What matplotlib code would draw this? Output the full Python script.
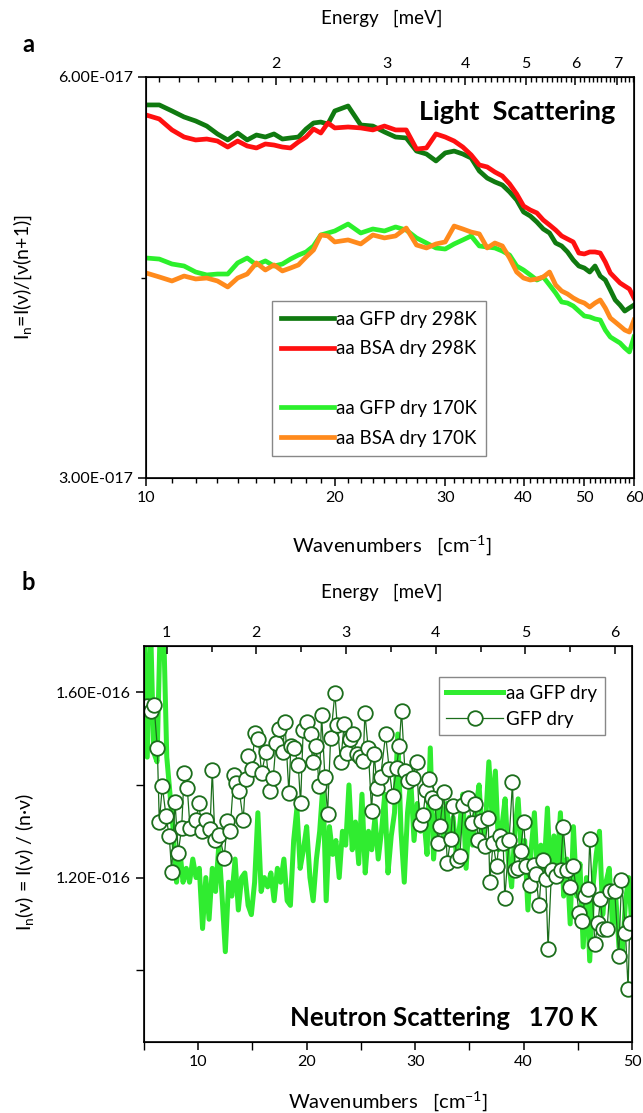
import numpy as np
import matplotlib.pyplot as plt
from matplotlib.ticker import FixedLocator, FuncFormatter, NullFormatter
from matplotlib.lines import Line2D

plt.rcParams['font.family'] = ['Lato', 'DejaVu Sans']
plt.rcParams['mathtext.fontset'] = 'custom'
plt.rcParams['mathtext.rm'] = 'Lato'
plt.rcParams['mathtext.it'] = 'Lato'

# ---------------- panel a : light scattering (values in 1e-17) ----------------
wn_a = [10, 10.5, 11, 11.5, 12, 12.5, 13, 13.5, 14, 14.5, 15, 15.5, 16, 16.5, 17,
        17.5, 18, 18.5, 19, 19.5, 20, 21, 22, 23, 24, 25, 26, 27, 28, 29, 30,
        31, 32, 33, 34, 35, 36, 37, 38, 39, 40, 41, 42, 43, 44, 45, 46, 47, 48,
        49, 50, 51, 52, 53, 54, 55, 56, 57, 58, 59, 60]
gfp_298 = [5.791, 5.791, 5.746, 5.701, 5.671, 5.633, 5.574, 5.529, 5.581, 5.529,
           5.566, 5.551, 5.574, 5.536, 5.544, 5.551, 5.611, 5.656, 5.663, 5.648,
           5.746,
           5.783, 5.641, 5.633, 5.589, 5.551, 5.544, 5.446, 5.424, 5.372, 5.432,
           5.446, 5.424, 5.394, 5.297, 5.244, 5.215, 5.192, 5.140, 5.080, 4.990,
           4.960, 4.915, 4.863, 4.833, 4.758, 4.736, 4.691, 4.631, 4.586, 4.571,
           4.541, 4.586, 4.511, 4.481, 4.407, 4.332, 4.294, 4.249, 4.272, 4.294]
bsa_298 = [5.716, 5.686, 5.604, 5.551, 5.529, 5.536, 5.521, 5.476, 5.521, 5.484,
           5.469, 5.499, 5.491, 5.476, 5.469, 5.514, 5.551, 5.611, 5.581, 5.656,
           5.619,
           5.626, 5.619, 5.604, 5.633, 5.604, 5.604, 5.461, 5.469, 5.574, 5.551,
           5.521, 5.476, 5.417, 5.342, 5.327, 5.289, 5.259, 5.200, 5.125, 5.035,
           5.005, 4.983, 4.930, 4.893, 4.855, 4.811, 4.788, 4.766, 4.683, 4.676,
           4.691, 4.691, 4.683, 4.616, 4.534, 4.496, 4.459, 4.436, 4.414, 4.347]
gfp_170 = [4.646, 4.638, 4.601, 4.586, 4.541, 4.519, 4.526, 4.526, 4.609, 4.646,
           4.594, 4.624, 4.586, 4.601, 4.638, 4.668, 4.691, 4.736, 4.818, 4.833,
           4.848,
           4.900, 4.833, 4.863, 4.848, 4.878, 4.855, 4.796, 4.758, 4.721, 4.713,
           4.751, 4.781, 4.811, 4.736, 4.728, 4.721, 4.698, 4.668, 4.586, 4.556,
           4.519, 4.481, 4.504, 4.444, 4.384, 4.317, 4.309, 4.287, 4.249, 4.212,
           4.205, 4.190, 4.182, 4.107, 4.055, 4.032, 4.010, 3.973, 3.943, 4.055]
bsa_170 = [4.534, 4.504, 4.474, 4.511, 4.489, 4.496, 4.474, 4.429, 4.496, 4.526,
           4.609, 4.556, 4.594, 4.549, 4.571, 4.594, 4.653, 4.706, 4.818, 4.811,
           4.766,
           4.781, 4.751, 4.818, 4.796, 4.811, 4.870, 4.743, 4.721, 4.751, 4.766,
           4.885, 4.863, 4.840, 4.826, 4.721, 4.758, 4.736, 4.646, 4.541, 4.496,
           4.481, 4.489, 4.504, 4.541, 4.444, 4.399, 4.377, 4.347, 4.324, 4.309,
           4.279, 4.309, 4.332, 4.272, 4.197, 4.167, 4.137, 4.107, 4.092, 4.182]

# ---------------- panel b : neutron scattering (values in 1e-16) ----------------
wn_aa = np.round(np.arange(5.0, 50.01, 0.3), 1)
aa_gfp = [1.75, 1.46, 1.75, 1.47, 1.45, 1.75, 1.75, 1.46, 1.38, 1.30,
          1.19, 1.26, 1.19, 1.22, 1.19, 1.24, 1.20, 1.22, 1.09, 1.20,
          1.11, 1.22, 1.17, 1.27, 1.16, 1.04, 1.19, 1.16, 1.24, 1.13,
          1.20, 1.21, 1.14, 1.12, 1.19, 1.34, 1.17, 1.20, 1.18, 1.21,
          1.15, 1.22, 1.19, 1.24, 1.15, 1.14, 1.28, 1.35, 1.22, 1.26,
          1.31, 1.20, 1.15, 1.24, 1.30, 1.40, 1.15, 1.31, 1.25, 1.28,
          1.20, 1.30, 1.27, 1.40, 1.26, 1.32, 1.23, 1.38, 1.21, 1.30,
          1.26, 1.33, 1.24, 1.30, 1.38, 1.21, 1.29, 1.34, 1.51, 1.30,
          1.19, 1.34, 1.41, 1.28, 1.36, 1.30, 1.33, 1.25, 1.48, 1.24,
          1.33, 1.38, 1.29, 1.36, 1.27, 1.33, 1.25, 1.31, 1.38, 1.22,
          1.33, 1.27, 1.35, 1.40, 1.28, 1.32, 1.45, 1.33, 1.43, 1.26,
          1.31, 1.37, 1.24, 1.18, 1.30, 1.37, 1.25, 1.28, 1.13, 1.26,
          1.34, 1.20, 1.27, 1.22, 1.35, 1.19, 1.29, 1.23, 1.34, 1.16,
          1.24, 1.10, 1.31, 1.16, 1.23, 1.05, 1.20, 1.02, 1.18, 1.25,
          1.30, 1.12, 1.19, 1.22, 1.10, 1.16, 1.05, 1.03, 1.15, 1.20,
          1.09]
wn_gfp = [5.30, 5.62, 5.92, 6.23, 6.41, 6.69, 7.03, 7.33, 7.55, 7.86,
          8.16, 8.47, 8.71, 8.99, 9.24, 9.79, 10.07, 10.32, 10.71, 11.08,
          11.30, 11.54, 11.94, 12.40, 12.68, 12.93, 13.29, 13.48, 13.78, 14.15,
          14.37, 14.61, 14.93, 15.23, 15.53, 15.85, 16.24, 16.61, 16.92, 17.17,
          17.47, 17.78, 18.00, 18.36, 18.55, 18.82, 19.22, 19.44, 19.68, 20.05,
          20.36, 20.55, 20.85, 21.16, 21.38, 21.68, 21.93, 22.21, 22.60, 22.82,
          23.13, 23.46, 23.68, 23.99, 24.29, 24.60, 24.91, 25.21, 25.37, 25.67,
          25.99, 26.23, 26.50, 26.82, 27.28, 27.61, 27.92, 28.29, 28.53, 28.75,
          29.06, 29.30, 29.77, 30.13, 30.44, 30.74, 30.99, 31.30, 31.52, 31.82,
          32.12, 32.28, 32.65, 32.97, 33.27, 33.51, 33.82, 34.12, 34.43, 34.89,
          35.20, 35.51, 35.81, 36.03, 36.43, 36.73, 36.89, 37.19, 37.51, 37.81,
          38.12, 38.27, 38.67, 38.98, 39.19, 39.50, 39.72, 40.02, 40.27, 40.58,
          40.94, 41.13, 41.43, 41.75, 42.05, 42.26, 42.58, 42.97, 43.41, 43.65,
          43.99, 44.29, 44.57, 45.12, 45.43, 45.65, 45.95, 46.11, 46.57, 46.87,
          47.09, 47.33, 47.70, 47.95, 48.41, 48.78, 49.03, 49.40, 49.64, 49.79]
gfp_dry = [1.570, 1.560, 1.573, 1.480, 1.320, 1.397, 1.333, 1.289, 1.213, 1.363,
           1.254, 1.308, 1.426, 1.394, 1.308, 1.325, 1.360, 1.300, 1.325, 1.305,
           1.432, 1.281, 1.293, 1.243, 1.322, 1.300, 1.421, 1.405, 1.387, 1.325,
           1.412, 1.462, 1.434, 1.513, 1.500, 1.426, 1.471, 1.387, 1.416, 1.491,
           1.520, 1.471, 1.535, 1.383, 1.485, 1.480, 1.444, 1.360, 1.519, 1.535,
           1.511, 1.449, 1.484, 1.397, 1.550, 1.418, 1.338, 1.502, 1.598, 1.529,
           1.449, 1.531, 1.470, 1.500, 1.511, 1.466, 1.461, 1.452, 1.555, 1.480,
           1.343, 1.466, 1.394, 1.418, 1.509, 1.434, 1.377, 1.437, 1.485, 1.560,
           1.430, 1.408, 1.416, 1.449, 1.315, 1.336, 1.389, 1.412, 1.372, 1.363,
           1.275, 1.311, 1.384, 1.232, 1.284, 1.354, 1.239, 1.246, 1.356, 1.372,
           1.318, 1.358, 1.282, 1.322, 1.268, 1.329, 1.191, 1.275, 1.225, 1.289,
           1.275, 1.156, 1.282, 1.406, 1.216, 1.221, 1.257, 1.320, 1.225, 1.185,
           1.228, 1.207, 1.140, 1.239, 1.198, 1.046, 1.216, 1.203, 1.216, 1.310,
           1.217, 1.180, 1.226, 1.124, 1.106, 1.160, 1.176, 1.284, 1.057, 1.103,
           1.154, 1.088, 1.088, 1.172, 1.170, 1.030, 1.194, 1.081, 0.959, 1.102]

# colours
dk_green = '#107a10'
red = '#ff1010'
lt_green = '#2cf02c'
orange = '#ff8a1c'
aa_green = '#30ec30'
circ_green = '#1c6e1c'

W, H = 643, 1113
fig = plt.figure(figsize=(W / 100, H / 100), dpi=100)


def fx(px):
    return px / W


def fy(py):
    return 1 - py / H


def sci_fmt(v, pos):
    m, e = ('%.2E' % v).split('E')
    e = int(e)
    return '%sE%s%03d' % (m, '-' if e < 0 else '+', abs(e))


def style_axes(ax):
    for s in ax.spines.values():
        s.set_linewidth(1.2)
    ax.tick_params(axis='both', which='major', direction='out', length=6,
                   width=1.1, labelsize=11.5, top=False, right=False)
    ax.tick_params(axis='both', which='minor', direction='out', length=3.5,
                   width=1.0, top=False, right=False)


# ================= panel a =================
ax1 = fig.add_axes([fx(146), fy(478), fx(488), 401 / H])
s17 = 1e-17
ax1.plot(wn_a, np.array(gfp_298) * s17, color=dk_green, lw=3.4, label='aa GFP dry 298K')
ax1.plot(wn_a, np.array(bsa_298) * s17, color=red, lw=3.4, label='aa BSA dry 298K')
ax1.plot(wn_a, np.array(gfp_170) * s17, color=lt_green, lw=3.4, label='aa GFP dry 170K')
ax1.plot(wn_a, np.array(bsa_170) * s17, color=orange, lw=3.4, label='aa BSA dry 170K')
ax1.set_xscale('log')
ax1.set_xlim(10, 60)
ax1.set_ylim(3e-17, 6e-17)
style_axes(ax1)
ax1.xaxis.set_major_locator(FixedLocator([10, 20, 30, 40, 50, 60]))
ax1.xaxis.set_major_formatter(FuncFormatter(lambda v, p: '%d' % round(v)))
ax1.xaxis.set_minor_locator(FixedLocator([v for v in range(11, 60) if v % 10]))
ax1.xaxis.set_minor_formatter(NullFormatter())
ax1.yaxis.set_major_locator(FixedLocator([3e-17, 6e-17]))
ax1.yaxis.set_minor_locator(FixedLocator([4.5e-17]))
ax1.yaxis.set_major_formatter(FuncFormatter(sci_fmt))

top1 = ax1.twiny()
top1.set_xscale('log')
top1.set_xlim(10 / 8.0655, 60 / 8.0655)
top1.xaxis.set_major_locator(FixedLocator([2, 3, 4, 5, 6, 7]))
top1.xaxis.set_major_formatter(FuncFormatter(lambda v, p: '%d' % round(v)))
top1.xaxis.set_minor_locator(FixedLocator([round(v, 1) for v in np.arange(1.3, 7.45, 0.1)
                                           if abs(v - round(v)) > 0.01]))
top1.xaxis.set_minor_formatter(NullFormatter())
top1.tick_params(axis='x', which='major', direction='in', length=6, width=1.1,
                 labelsize=11.5, pad=4)
top1.tick_params(axis='x', which='minor', direction='in', length=3.5, width=1.0)

h = ax1.get_legend_handles_labels()[0]
blank = Line2D([], [], color='none')
leg1 = ax1.legend([h[0], h[1], blank, h[2], h[3]],
                  ['aa GFP dry 298K', 'aa BSA dry 298K', ' ', 'aa GFP dry 170K', 'aa BSA dry 170K'],
                  loc='upper left', bbox_to_anchor=(0.258, 0.441), borderaxespad=0,
                  fontsize=13.5, handlelength=2.8, handletextpad=0.12, labelspacing=0.68,
                  fancybox=False, edgecolor='#888888', framealpha=1, borderpad=0.5)
leg1.get_frame().set_linewidth(1.0)
ax1.text(0.961, 0.913, 'Light  Scattering', transform=ax1.transAxes, ha='right',
         va='center', fontsize=19.5, fontweight='bold')

# ================= panel b =================
ax2 = fig.add_axes([fx(144), fy(1042), fx(488), 396 / H])
s16 = 1e-16
ax2.plot(wn_aa, np.array(aa_gfp) * s16, color=aa_green, lw=3.6, label='aa GFP dry')
ax2.plot(wn_gfp, np.array(gfp_dry) * s16, color=circ_green, lw=0.9, marker='o', ms=10.5,
         mfc='white', mec=circ_green, mew=1.3, label='GFP dry')
ax2.set_xlim(5, 50)
ax2.set_ylim(0.845e-16, 1.70e-16)
style_axes(ax2)
ax2.xaxis.set_major_locator(FixedLocator([10, 20, 30, 40, 50]))
ax2.xaxis.set_minor_locator(FixedLocator([5, 15, 25, 35, 45]))
ax2.xaxis.set_major_formatter(FuncFormatter(lambda v, p: '%d' % round(v)))
ax2.yaxis.set_major_locator(FixedLocator([1.2e-16, 1.6e-16]))
ax2.yaxis.set_minor_locator(FixedLocator([1.0e-16, 1.4e-16]))
ax2.yaxis.set_major_formatter(FuncFormatter(sci_fmt))
ax2.tick_params(axis='y', which='minor', length=6)
ax2.tick_params(axis='x', which='minor', length=6)

top2 = ax2.twiny()
top2.set_xlim((5 + 1.18) / 8.27, (50 + 1.18) / 8.27)
top2.xaxis.set_major_locator(FixedLocator([1, 2, 3, 4, 5, 6]))
top2.xaxis.set_minor_locator(FixedLocator([1.5, 2.5, 3.5, 4.5, 5.5]))
top2.xaxis.set_major_formatter(FuncFormatter(lambda v, p: '%d' % round(v)))
top2.tick_params(axis='x', which='both', direction='in', length=6, width=1.1,
                 labelsize=11.5, pad=4)
top2.tick_params(axis='x', which='minor', length=4)

leg2 = ax2.legend(loc='upper left', bbox_to_anchor=(0.6045, 0.9217), borderaxespad=0,
                  fontsize=13.5, handlelength=3.0, handletextpad=0.2, labelspacing=0.5,
                  fancybox=False, edgecolor='#888888', framealpha=1, borderpad=0.4)
leg2.get_frame().set_linewidth(1.0)
ax2.text(0.930, 0.0606, 'Neutron Scattering   170 K', transform=ax2.transAxes,
         ha='right', va='center', fontsize=18.5, fontweight='bold')

# ================= figure texts =================
fig.text(fx(28), fy(45), 'a', fontsize=17, fontweight='bold', ha='center', va='center')
fig.text(fx(28), fy(582), 'b', fontsize=17, fontweight='bold', ha='center', va='center')
fig.text(fx(382), fy(18), 'Energy   [meV]', fontsize=13.5, ha='center', va='center')
fig.text(fx(382), fy(592), 'Energy   [meV]', fontsize=13.5, ha='center', va='center')
fig.text(fx(392), fy(545), 'Wavenumbers   [cm$^{-1}$]', fontsize=14.5, ha='center', va='center')
fig.text(fx(388), fy(1101), 'Wavenumbers   [cm$^{-1}$]', fontsize=14.5, ha='center', va='center')
fig.text(fx(23), fy(277), 'I$_\\mathregular{n}$=I(ν)/[ν(n+1)]', fontsize=14, rotation=90,
         ha='center', va='center')
fig.text(fx(24), fy(862), 'I$_\\mathregular{n}$(ν) = I(ν) / (n·ν)', fontsize=14, rotation=90,
         ha='center', va='center')

fig.savefig('out.png', dpi=100)
